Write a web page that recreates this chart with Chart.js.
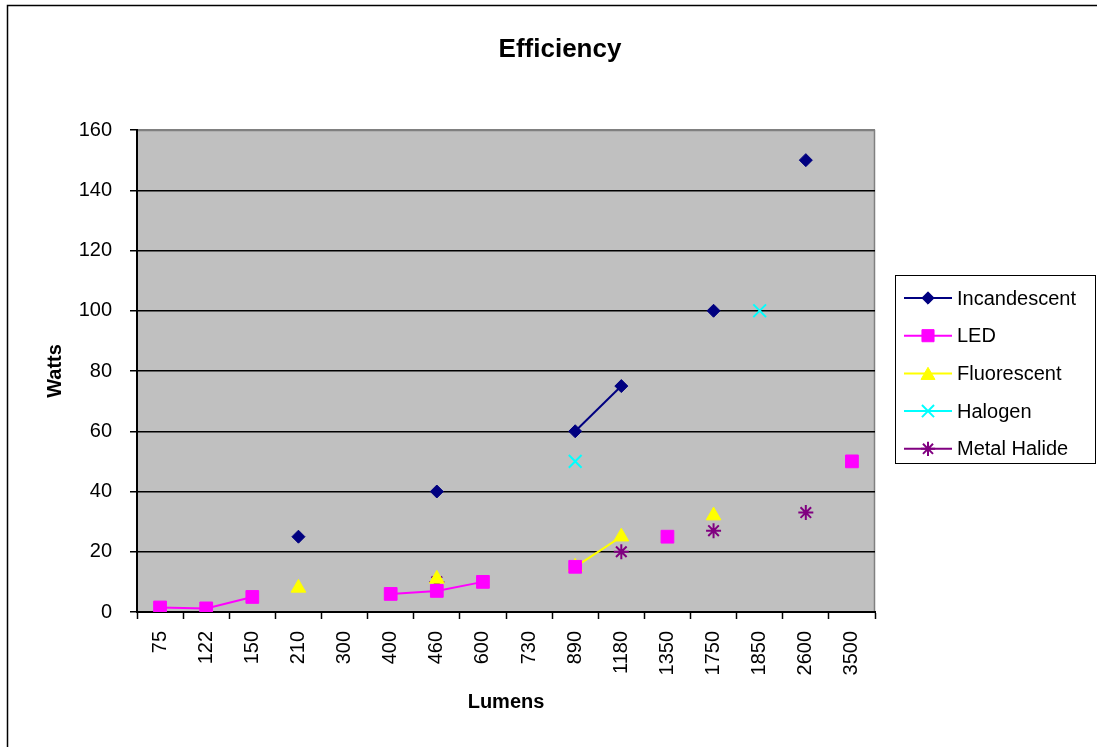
<!DOCTYPE html>
<html>
<head>
<meta charset="utf-8">
<title>Efficiency</title>
<script src="https://cdn.jsdelivr.net/npm/chart.js@4/dist/chart.umd.min.js"></script>
<style>
  html, body { margin: 0; padding: 0; background: #fff; }
  #wrap { width: 1097px; height: 747px; }
</style>
</head>
<body>
<div id="wrap"><canvas id="effChart" width="1097" height="747"></canvas></div>
<script>
const TITLE = "Efficiency";
const X_TITLE = "Lumens";
const Y_TITLE = "Watts";

const lumens = ["75", "122", "150", "210", "300", "400", "460", "600", "730", "890", "1180", "1350", "1750", "1850", "2600", "3500"];
const yTicks = [0, 20, 40, 60, 80, 100, 120, 140, 160];

const incandescent = [null, null, null, 25, null, null, 40, null, null, 60, 75, null, 100, null, 150, null];
const led          = [1.5, 1.2, 5, null, null, 6, 7, 10, null, 15, null, 25, null, null, null, 50];
const fluorescent  = [null, null, null, 8, null, null, 11, null, null, 15, 25, null, 32, null, null, null];
const halogen      = [null, null, null, null, null, null, null, null, null, 50, null, null, null, 100, null, null];
const metalHalide  = [null, null, null, null, null, null, 10, null, null, null, 20, null, 27, null, 33, null];

const FONT = "'Liberation Sans', Arial, sans-serif";

function series(label, data, color, style, radius, bw) {
  return {
    label, data,
    borderColor: color,
    backgroundColor: color,
    pointBackgroundColor: color,
    pointBorderColor: color,
    pointStyle: style,
    pointRadius: radius,
    pointHoverRadius: radius,
    pointBorderWidth: bw,
    borderWidth: 2,
    spanGaps: false,
    tension: 0
  };
}

// grey plot area, outer frame, title and the boxed legend on the right
const decor = {
  id: "decor",
  beforeDraw(c) {
    const ctx = c.ctx, a = c.chartArea;
    ctx.save();
    ctx.fillStyle = "#c0c0c0";
    ctx.fillRect(a.left, a.top, a.right - a.left, a.bottom - a.top);
    ctx.strokeStyle = "#808080";
    ctx.lineWidth = 1.5;
    ctx.beginPath();
    ctx.moveTo(a.left, a.top + 0.5);
    ctx.lineTo(a.right - 0.5, a.top + 0.5);
    ctx.lineTo(a.right - 0.5, a.bottom);
    ctx.stroke();
    ctx.strokeStyle = "#000";
    ctx.lineWidth = 1.5;
    ctx.strokeRect(7.5, 5.5, 1300, 1000);
    ctx.fillStyle = "#000";
    ctx.font = "bold 26px " + FONT;
    ctx.textAlign = "center";
    ctx.textBaseline = "middle";
    ctx.fillText(TITLE, 560, 50);
    ctx.restore();
  },
  afterDraw(c) {
    const ctx = c.ctx;
    ctx.save();
    ctx.fillStyle = "#fff";
    ctx.fillRect(895, 275, 200, 188);
    ctx.strokeStyle = "#000";
    ctx.lineWidth = 1;
    ctx.strokeRect(895.5, 275.5, 200, 188);
    ctx.font = "20px " + FONT;
    ctx.textBaseline = "middle";
    ctx.textAlign = "left";
    c.data.datasets.forEach((ds, i) => {
      const y = 298 + i * 37.7;
      ctx.strokeStyle = ds.borderColor;
      ctx.lineWidth = 2;
      ctx.beginPath();
      ctx.moveTo(904, y);
      ctx.lineTo(952, y);
      ctx.stroke();
      ctx.fillStyle = ds.pointBackgroundColor;
      ctx.strokeStyle = ds.pointBorderColor;
      ctx.lineWidth = ds.pointBorderWidth;
      Chart.helpers.drawPoint(ctx, {
        pointStyle: ds.pointStyle,
        radius: ds.pointRadius * 0.95,
        borderWidth: ds.pointBorderWidth,
        rotation: 0
      }, 928, y + (ds.pointStyle === "triangle" ? 2 : 0));
      ctx.fillStyle = "#000";
      ctx.fillText(ds.label, 957, y + 1);
    });
    ctx.restore();
  }
};

new Chart(document.getElementById("effChart"), {
  type: "line",
  data: {
    labels: lumens,
    datasets: [
      series("Incandescent", incandescent, "#000080", "rectRot", 6.5, 1),
      series("LED", led, "#ff00ff", "rect", 9, 1),
      series("Fluorescent", fluorescent, "#ffff00", "triangle", 8.5, 1),
      series("Halogen", halogen, "#00ffff", "crossRot", 9, 2),
      series("Metal Halide", metalHalide, "#800080", "star", 7.5, 2)
    ]
  },
  options: {
    responsive: false,
    animation: false,
    events: [],
    layout: { padding: { top: 130, right: 222, left: 0, bottom: 0 } },
    plugins: {
      legend: { display: false },
      title: { display: false },
      tooltip: { enabled: false }
    },
    scales: {
      x: {
        offset: true,
        afterFit(s) { s.height = 135; },
        grid: {
          offset: true,
          drawOnChartArea: false,
          drawTicks: true,
          tickLength: 7,
          tickColor: "#000",
          tickWidth: 1.5
        },
        border: { color: "#000", width: 2 },
        ticks: {
          color: "#000",
          font: { family: FONT, size: 20 },
          minRotation: 90,
          maxRotation: 90,
          autoSkip: false,
          padding: 12
        },
        title: {
          display: true,
          text: X_TITLE,
          color: "#000",
          font: { family: FONT, size: 20, weight: "bold" },
          padding: { top: 0, bottom: 33 }
        }
      },
      y: {
        min: 0,
        max: 160,
        afterFit(s) { s.width = 137; },
        afterBuildTicks(s) { s.ticks = yTicks.map(v => ({ value: v })); },
        grid: {
          color: ctx => ctx.tick && ctx.tick.value === 160 ? "#808080" : "#000",
          lineWidth: 1.5,
          drawTicks: true,
          tickLength: 7,
          tickColor: "#000",
          tickWidth: 1.5
        },
        border: { color: "#000", width: 2 },
        ticks: {
          color: "#000",
          font: { family: FONT, size: 20 },
          padding: 18
        },
        title: {
          display: true,
          text: Y_TITLE,
          color: "#000",
          font: { family: FONT, size: 20, weight: "bold" },
          padding: { top: 43, bottom: 0 }
        }
      }
    }
  },
  plugins: [decor]
});
</script>
</body>
</html>
